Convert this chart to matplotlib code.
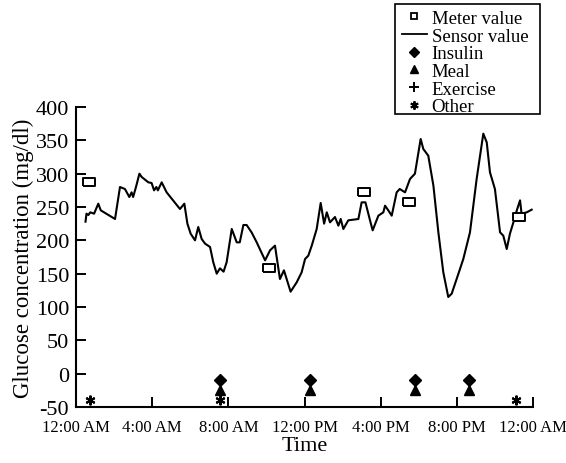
import matplotlib
matplotlib.use("Agg")
import matplotlib.pyplot as plt
from matplotlib.patches import Rectangle

# ---- data ----
sensor_hours = [0.50, 0.55, 0.65, 0.75, 0.95, 1.17, 1.30, 2.05, 2.31, 2.57, 2.80, 2.92, 3.00, 3.15,
                3.33, 3.45, 3.80, 3.97, 4.10, 4.22, 4.30, 4.50, 4.76, 5.46, 5.69, 5.85, 6.02, 6.25,
                6.42, 6.60, 6.78, 7.04, 7.21, 7.39, 7.56, 7.75, 7.91, 8.18, 8.44, 8.60, 8.79, 8.96,
                9.22, 9.49, 9.93, 10.19, 10.45, 10.71, 10.92, 11.27, 11.59, 11.85, 12.03, 12.20,
                12.38, 12.64, 12.85, 13.03, 13.17, 13.34, 13.60, 13.78, 13.90, 14.04, 14.30, 14.83,
                15.00, 15.20, 15.44, 15.58, 15.88, 16.14, 16.23, 16.40, 16.58, 16.84, 17.00, 17.28,
                17.54, 17.80, 18.10, 18.24, 18.50, 18.77, 19.03, 19.29, 19.55, 19.73, 19.99, 20.34,
                20.69, 21.04, 21.39, 21.57, 21.74, 22.00, 22.27, 22.44, 22.62, 22.79, 22.97, 23.15,
                23.32, 23.40, 23.67, 23.93]
sensor_values = [228, 240, 238, 242, 240, 255, 245, 232, 280, 277, 265, 272, 265, 280,
                 300, 295, 287, 286, 275, 280, 275, 287, 272, 247, 255, 225, 210, 200,
                 220, 202, 195, 190, 167, 150, 158, 153, 167, 217, 197, 197, 223, 223,
                 212, 197, 170, 185, 192, 142, 155, 123, 137, 152, 172, 177,
                 192, 217, 256, 225, 242, 227, 235, 222, 232, 217, 230, 232,
                 257, 257, 230, 215, 237, 242, 252, 245, 237, 272, 277, 272,
                 292, 300, 352, 337, 327, 282, 212, 152, 115, 120, 142, 172,
                 212, 292, 360, 347, 302, 277, 212, 207, 187, 210, 227, 245,
                 260, 240, 242, 246]

meter_hours = [0.70, 10.14, 15.13, 17.49, 23.27]
meter_values = [288, 158, 272, 257, 235]

insulin_hours = [7.56, 12.29, 17.80, 20.66]
insulin_values = [-10, -10, -10, -10]

meal_hours = [7.56, 12.29, 17.80, 20.66]
meal_values = [-25, -25, -25, -25]

exercise_hours = []
exercise_values = []

other_hours = [0.74, 7.56, 23.10]
other_values = [-40, -40, -40]

xtick_hours = [0, 4, 8, 12, 16, 20, 24]
xtick_labels = ["12:00 AM", "4:00 AM", "8:00 AM", "12:00 PM", "4:00 PM", "8:00 PM", "12:00 AM"]
ytick_values = [-50, 0, 50, 100, 150, 200, 250, 300, 350, 400]

# ---- figure ----
plt.rcParams['font.family'] = ['Liberation Serif', 'DejaVu Serif']
plt.rcParams['axes.unicode_minus'] = False

W, H = 566, 464
fig = plt.figure(figsize=(W / 100, H / 100), dpi=100)
ax = fig.add_axes([76 / W, 1 - 408 / H, (533 - 76) / W, (408 - 108) / H])

rect = [(-1.5, -1), (1.5, -1), (1.5, 1), (-1.5, 1), (-1.5, -1)]

ax.plot(sensor_hours, sensor_values, color='black', lw=1.5, label='Sensor value', zorder=3)
ax.plot(meter_hours, meter_values, ls='none', marker=rect, ms=9, mfc='white', mec='black',
        mew=1.4, label='Meter value', zorder=4)
ax.plot(insulin_hours, insulin_values, ls='none', marker='D', ms=6, color='black', label='Insulin', clip_on=False)
ax.plot(meal_hours, meal_values, ls='none', marker='^', ms=7, color='black', label='Meal', clip_on=False)
ax.plot(exercise_hours, exercise_values, ls='none', marker='+', ms=7, mew=1.5, color='black', label='Exercise')
ax.plot(other_hours, other_values, ls='none', marker=(6, 2, 0), ms=7, mew=1.5, color='black', label='Other', clip_on=False)

ax.set_xlim(0, 24)
ax.set_ylim(-50, 400)
ax.set_xticks(xtick_hours)
ax.set_xticklabels(xtick_labels)
ax.set_yticks(ytick_values)
ax.tick_params(axis='both', direction='in', length=7, width=1.4, color='black')
ax.tick_params(axis='x', labelsize=12, pad=9)
ax.tick_params(axis='y', labelsize=16, pad=5)
for s in ['top', 'right']:
    ax.spines[s].set_visible(False)
for s in ['left', 'bottom']:
    ax.spines[s].set_linewidth(1.5)

ax.set_xlabel('Time', fontsize=16, labelpad=0.5)
ax.set_ylabel('Glucose concentration (mg/dl)', fontsize=16.5, labelpad=1)

# legend
h_meter = plt.Line2D([], [], ls='none', marker='s', ms=5, mfc='white', mec='black', mew=1.3)
h_sensor = plt.Line2D([], [], color='black', lw=1.3)
h_ins = plt.Line2D([], [], ls='none', marker='D', ms=5, color='black')
h_meal = plt.Line2D([], [], ls='none', marker='^', ms=6, color='black')
h_ex = plt.Line2D([], [], ls='none', marker='+', ms=7, mew=1.4, color='black')
h_oth = plt.Line2D([], [], ls='none', marker=(6, 2, 0), ms=6, mew=1.4, color='black')
leg = fig.legend([h_meter, h_sensor, h_ins, h_meal, h_ex, h_oth],
                 ['Meter value', 'Sensor value', 'Insulin', 'Meal', 'Exercise', 'Other'],
                 loc='upper left', bbox_to_anchor=(398 / W, 1 - 7 / H), borderaxespad=0,
                 fontsize=13.5, frameon=False,
                 labelspacing=0.03, borderpad=0.2, handlelength=1.33, handletextpad=0.27)
fig.patches.append(Rectangle((395 / W, 1 - 115 / H), 145 / W, 110 / H, transform=fig.transFigure,
                             fill=False, edgecolor='black', lw=1.2))

fig.savefig('out.png', dpi=100)
